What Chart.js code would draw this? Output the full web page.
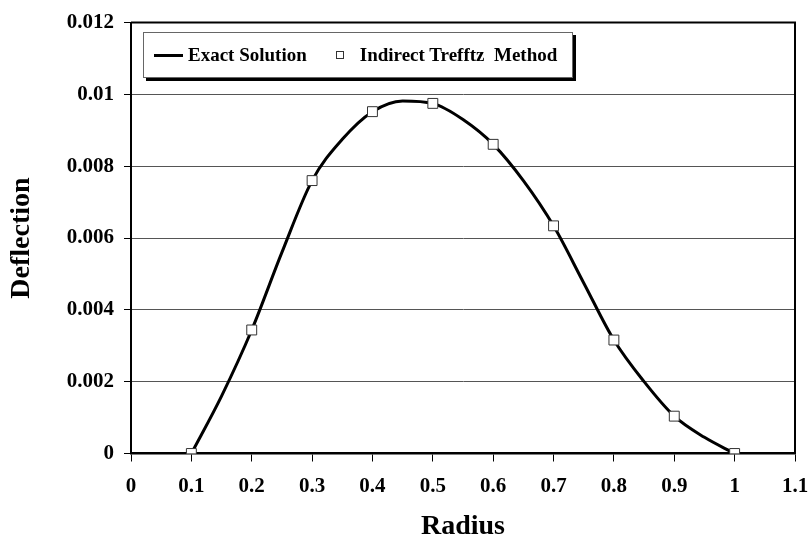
<!DOCTYPE html>
<html>
<head>
<meta charset="utf-8">
<script src="https://cdn.jsdelivr.net/npm/chart.js@4.4.0/dist/chart.umd.min.js"></script>
<style>
  body { margin: 0; background: #fff; }
  #wrap { position: relative; width: 808px; height: 544px; }
  #legend {
    position: absolute;
    left: 143px;
    top: 32px;
    width: 428px;
    height: 44px;
    border: 1px solid #666;
    box-shadow: 3px 3px 0 #000;
    background: #fff;
    display: flex;
    align-items: center;
    font: bold 19px "Liberation Serif", "Times New Roman", serif;
    color: #000;
    box-sizing: content-box;
  }
  #legend .item { display: flex; align-items: center; white-space: pre; }
  #legend .line { width: 29px; height: 3px; background: #000; margin: 0 5px 0 10px; }
  #legend .box { width: 6px; height: 6px; border: 1px solid #333; background: #fff; margin: 0 16px 0 29px; }
</style>
</head>
<body>
<div id="wrap">
  <canvas id="chart" width="808" height="544"></canvas>
  <div id="legend"></div>
</div>
<script>
const exactR = [0.1, 0.15, 0.2, 0.25, 0.3, 0.35, 0.4, 0.45, 0.5, 0.55, 0.6, 0.65, 0.7, 0.75, 0.8, 0.85, 0.9, 0.95, 1.0];
const exactW = [0, 0.0016, 0.00344, 0.0056, 0.0076, 0.00875, 0.00952, 0.00982, 0.00975, 0.0093, 0.00861, 0.0076, 0.00634, 0.00475, 0.00316, 0.002, 0.00104, 0.00045, 0];

const trefftzR = [0.1, 0.2, 0.3, 0.4, 0.5, 0.6, 0.7, 0.8, 0.9, 1.0];
const trefftzW = [0, 0.00344, 0.0076, 0.00952, 0.00975, 0.00861, 0.00634, 0.00316, 0.00104, 0];

const xTicks = [0, 0.1, 0.2, 0.3, 0.4, 0.5, 0.6, 0.7, 0.8, 0.9, 1, 1.1];
const xTickLabels = ["0", "0.1", "0.2", "0.3", "0.4", "0.5", "0.6", "0.7", "0.8", "0.9", "1", "1.1"];
const yTicks = [0, 0.002, 0.004, 0.006, 0.008, 0.01, 0.012];
const yTickLabels = ["0", "0.002", "0.004", "0.006", "0.008", "0.01", "0.012"];

const serif = "'Liberation Serif', 'Times New Roman', serif";

// frame on top and right of the plot (axes give left and bottom)
const frame = {
  id: "frame",
  beforeDatasetsDraw(chart) {
    const { ctx, chartArea: a } = chart;
    ctx.save();
    ctx.strokeStyle = "#000";
    ctx.lineWidth = 2;
    ctx.beginPath();
    ctx.moveTo(a.left, a.top);
    ctx.lineTo(a.right, a.top);
    ctx.lineTo(a.right, a.bottom);
    ctx.stroke();
    ctx.restore();
  },
};

const ctx = document.getElementById("chart").getContext("2d");
const chart = new Chart(ctx, {
  type: "line",
  data: {
    datasets: [
      {
        label: "Indirect Trefftz  Method",
        data: trefftzR.map((r, i) => ({ x: r, y: trefftzW[i] })),
        showLine: false,
        pointStyle: "rect",
        pointRadius: 7,
        pointBackgroundColor: "#fff",
        pointBorderColor: "#333",
        pointBorderWidth: 1,
        order: 0,
      },
      {
        label: "Exact Solution",
        data: exactR.map((r, i) => ({ x: r, y: exactW[i] })),
        borderColor: "#000",
        borderWidth: 3,
        pointRadius: 0,
        cubicInterpolationMode: "monotone",
        fill: false,
        order: 1,
      },
    ],
  },
  options: {
    responsive: false,
    animation: false,
    layout: { padding: { left: 0, top: 18, right: 13, bottom: 0 } },
    plugins: {
      legend: { display: false },
      tooltip: { enabled: false },
    },
    scales: {
      x: {
        type: "linear",
        min: 0,
        max: 1.1,
        afterFit: (s) => {
          s.height = 90.5;
          s.paddingRight = 0;
          s.paddingLeft = 0;
        },
        afterBuildTicks: (s) => { s.ticks = xTicks.map((v) => ({ value: v })); },
        border: { color: "#000", width: 2.5 },
        grid: { drawOnChartArea: false, tickLength: 8, tickColor: "#000", tickWidth: 1 },
        ticks: {
          color: "#000",
          padding: 12,
          maxRotation: 0,
          font: { family: serif, size: 21, weight: "bold" },
          callback: (v, i) => xTickLabels[i],
        },
        title: {
          display: true,
          text: "Radius",
          color: "#000",
          padding: 0,
          font: { family: serif, size: 28, weight: "bold" },
        },
      },
      y: {
        min: 0,
        max: 0.012,
        afterFit: (s) => { s.width = 131; },
        afterBuildTicks: (s) => { s.ticks = yTicks.map((v) => ({ value: v })); },
        border: { color: "#000", width: 2 },
        grid: { color: "#555", lineWidth: 1, tickLength: 7, tickColor: "#000" },
        ticks: {
          color: "#000",
          padding: 10,
          font: { family: serif, size: 21, weight: "bold" },
          callback: (v, i) => yTickLabels[i],
        },
        title: {
          display: true,
          text: "Deflection",
          color: "#000",
          padding: { top: 5 },
          font: { family: serif, size: 28, weight: "bold" },
        },
      },
    },
  },
  plugins: [frame],
});

// html legend inside the plot
const legend = document.getElementById("legend");
[chart.data.datasets[1], chart.data.datasets[0]].forEach((ds) => {
  const item = document.createElement("span");
  item.className = "item";
  const mark = document.createElement("span");
  mark.className = ds.showLine === false ? "box" : "line";
  item.appendChild(mark);
  item.appendChild(document.createTextNode(ds.label));
  legend.appendChild(item);
});
</script>
</body>
</html>
